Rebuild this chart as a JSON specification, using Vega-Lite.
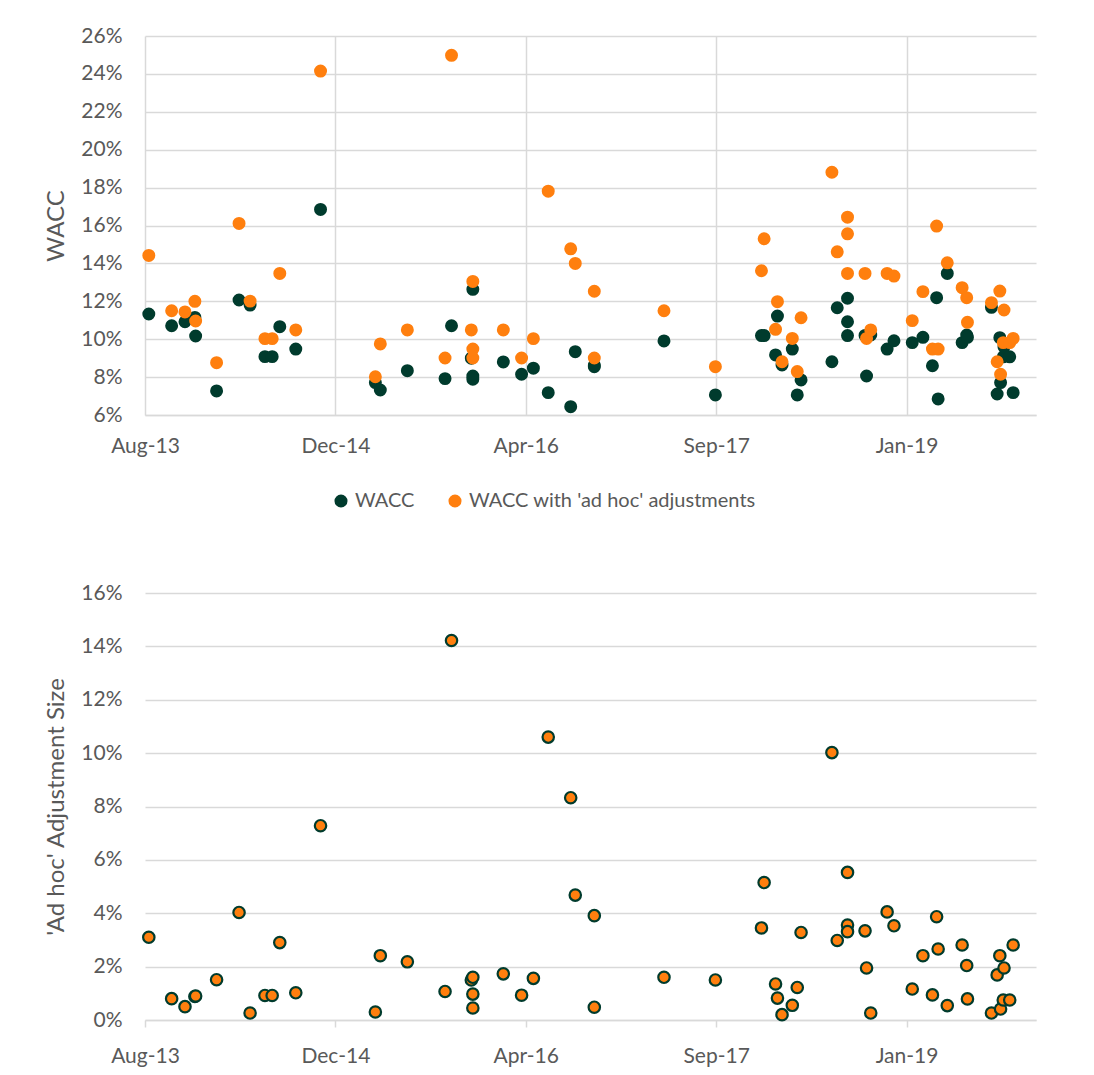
{
  "$schema": "https://vega.github.io/schema/vega-lite/v6.json",
  "background": "white",
  "padding": {"left": 44, "top": 25, "right": 10, "bottom": 5},
  "spacing": 126,
  "config": {
    "font": "Lato",
    "view": {"stroke": null},
    "axis": {
      "labelFont": "Lato", "titleFont": "Lato",
      "labelColor": "#595959", "titleColor": "#595959",
      "labelFontSize": 21, "titleFontSize": 24, "titleFontWeight": "normal",
      "labelOverlap": false,
      "gridColor": "#d9d9d9", "gridWidth": 1.5,
      "domainColor": "#d9d9d9", "domainWidth": 1.5, "tickColor": "#d9d9d9", "tickWidth": 1.5
    },
    "legend": {"labelFont": "Lato", "labelColor": "#595959", "labelFontSize": 20, "labelLimit": 0}
  },
  "datasets": {
    "pts": [
      {"date": "2013-08-11", "wacc": 0.1133, "wacc_adhoc": 0.1442, "adjustment": 0.031},
      {"date": "2013-10-10", "wacc": 0.1071, "wacc_adhoc": 0.1150, "adjustment": 0.008},
      {"date": "2013-11-14", "wacc": 0.1092, "wacc_adhoc": 0.1144, "adjustment": 0.005},
      {"date": "2013-12-10", "wacc": 0.1115, "wacc_adhoc": 0.1200, "adjustment": 0.0088},
      {"date": "2013-12-12", "wacc": 0.1017, "wacc_adhoc": 0.1096, "adjustment": 0.009},
      {"date": "2014-02-05", "wacc": 0.0727, "wacc_adhoc": 0.0876, "adjustment": 0.0151},
      {"date": "2014-04-05", "wacc": 0.1207, "wacc_adhoc": 0.1611, "adjustment": 0.0403},
      {"date": "2014-05-04", "wacc": 0.1180, "wacc_adhoc": 0.1201, "adjustment": 0.0026},
      {"date": "2014-06-12", "wacc": 0.0908, "wacc_adhoc": 0.1003, "adjustment": 0.0092},
      {"date": "2014-07-01", "wacc": 0.0908, "wacc_adhoc": 0.1003, "adjustment": 0.0092},
      {"date": "2014-07-21", "wacc": 0.1066, "wacc_adhoc": 0.1347, "adjustment": 0.029},
      {"date": "2014-09-01", "wacc": 0.0948, "wacc_adhoc": 0.1049, "adjustment": 0.0102},
      {"date": "2014-11-05", "wacc": 0.1685, "wacc_adhoc": 0.2415, "adjustment": 0.0728},
      {"date": "2015-03-29", "wacc": 0.0771, "wacc_adhoc": 0.0802, "adjustment": 0.003},
      {"date": "2015-04-11", "wacc": 0.0732, "wacc_adhoc": 0.0975, "adjustment": 0.0241},
      {"date": "2015-06-21", "wacc": 0.0834, "wacc_adhoc": 0.1049, "adjustment": 0.0218},
      {"date": "2015-09-28", "wacc": 0.0792, "wacc_adhoc": 0.0901, "adjustment": 0.0107},
      {"date": "2015-10-15", "wacc": 0.1071, "wacc_adhoc": 0.2498, "adjustment": 0.1422},
      {"date": "2015-12-10", "wacc": 0.1263, "wacc_adhoc": 0.1305, "adjustment": 0.0045},
      {"date": "2015-12-06", "wacc": 0.0900, "wacc_adhoc": 0.1049, "adjustment": 0.015},
      {"date": "2015-12-10", "wacc": 0.0806, "wacc_adhoc": 0.0901, "adjustment": 0.0097},
      {"date": "2015-12-10", "wacc": 0.0789, "wacc_adhoc": 0.0948, "adjustment": 0.016},
      {"date": "2016-02-28", "wacc": 0.0880, "wacc_adhoc": 0.1049, "adjustment": 0.0173},
      {"date": "2016-04-16", "wacc": 0.0815, "wacc_adhoc": 0.0901, "adjustment": 0.0093},
      {"date": "2016-05-17", "wacc": 0.0847, "wacc_adhoc": 0.1003, "adjustment": 0.0156},
      {"date": "2016-06-25", "wacc": 0.0718, "wacc_adhoc": 0.1781, "adjustment": 0.106},
      {"date": "2016-08-23", "wacc": 0.0644, "wacc_adhoc": 0.1477, "adjustment": 0.0833},
      {"date": "2016-09-04", "wacc": 0.0934, "wacc_adhoc": 0.1400, "adjustment": 0.0468},
      {"date": "2016-10-24", "wacc": 0.0855, "wacc_adhoc": 0.0901, "adjustment": 0.0048},
      {"date": "2016-10-24", "wacc": 0.0862, "wacc_adhoc": 0.1253, "adjustment": 0.0391},
      {"date": "2017-04-25", "wacc": 0.0991, "wacc_adhoc": 0.1150, "adjustment": 0.016},
      {"date": "2017-09-07", "wacc": 0.0706, "wacc_adhoc": 0.0855, "adjustment": 0.015},
      {"date": "2018-01-06", "wacc": 0.1019, "wacc_adhoc": 0.1361, "adjustment": 0.0345},
      {"date": "2018-01-13", "wacc": 0.1019, "wacc_adhoc": 0.1530, "adjustment": 0.0515},
      {"date": "2018-02-12", "wacc": 0.0917, "wacc_adhoc": 0.1052, "adjustment": 0.0135},
      {"date": "2018-02-17", "wacc": 0.1122, "wacc_adhoc": 0.1198, "adjustment": 0.0082},
      {"date": "2018-03-01", "wacc": 0.0864, "wacc_adhoc": 0.0881, "adjustment": 0.002},
      {"date": "2018-03-28", "wacc": 0.0948, "wacc_adhoc": 0.1004, "adjustment": 0.0055},
      {"date": "2018-04-10", "wacc": 0.0706, "wacc_adhoc": 0.0829, "adjustment": 0.0122},
      {"date": "2018-04-20", "wacc": 0.0785, "wacc_adhoc": 0.1113, "adjustment": 0.0328},
      {"date": "2018-07-10", "wacc": 0.0881, "wacc_adhoc": 0.1881, "adjustment": 0.1002},
      {"date": "2018-07-24", "wacc": 0.1166, "wacc_adhoc": 0.1461, "adjustment": 0.0298},
      {"date": "2018-08-20", "wacc": 0.1092, "wacc_adhoc": 0.1644, "adjustment": 0.0553},
      {"date": "2018-08-20", "wacc": 0.1216, "wacc_adhoc": 0.1556, "adjustment": 0.0356},
      {"date": "2018-08-20", "wacc": 0.1019, "wacc_adhoc": 0.1347, "adjustment": 0.0331},
      {"date": "2018-10-05", "wacc": 0.1020, "wacc_adhoc": 0.1347, "adjustment": 0.0334},
      {"date": "2018-10-09", "wacc": 0.0806, "wacc_adhoc": 0.1004, "adjustment": 0.0195},
      {"date": "2018-10-20", "wacc": 0.1022, "wacc_adhoc": 0.1049, "adjustment": 0.0026},
      {"date": "2018-12-02", "wacc": 0.0948, "wacc_adhoc": 0.1347, "adjustment": 0.0405},
      {"date": "2018-12-20", "wacc": 0.0992, "wacc_adhoc": 0.1333, "adjustment": 0.0353},
      {"date": "2019-02-06", "wacc": 0.0982, "wacc_adhoc": 0.1098, "adjustment": 0.0116},
      {"date": "2019-03-06", "wacc": 0.1010, "wacc_adhoc": 0.1251, "adjustment": 0.0241},
      {"date": "2019-03-31", "wacc": 0.0860, "wacc_adhoc": 0.0948, "adjustment": 0.0094},
      {"date": "2019-04-11", "wacc": 0.1219, "wacc_adhoc": 0.1597, "adjustment": 0.0387},
      {"date": "2019-04-15", "wacc": 0.0685, "wacc_adhoc": 0.0948, "adjustment": 0.0266},
      {"date": "2019-05-09", "wacc": 0.1347, "wacc_adhoc": 0.1403, "adjustment": 0.0054},
      {"date": "2019-06-17", "wacc": 0.0982, "wacc_adhoc": 0.1272, "adjustment": 0.0281},
      {"date": "2019-06-29", "wacc": 0.1022, "wacc_adhoc": 0.1219, "adjustment": 0.0204},
      {"date": "2019-07-01", "wacc": 0.1010, "wacc_adhoc": 0.1089, "adjustment": 0.0079},
      {"date": "2019-09-02", "wacc": 0.1168, "wacc_adhoc": 0.1193, "adjustment": 0.0026},
      {"date": "2019-09-17", "wacc": 0.0711, "wacc_adhoc": 0.0881, "adjustment": 0.0169},
      {"date": "2019-09-24", "wacc": 0.1008, "wacc_adhoc": 0.1254, "adjustment": 0.0241},
      {"date": "2019-09-26", "wacc": 0.0771, "wacc_adhoc": 0.0815, "adjustment": 0.0041},
      {"date": "2019-10-03", "wacc": 0.0907, "wacc_adhoc": 0.0982, "adjustment": 0.0075},
      {"date": "2019-10-05", "wacc": 0.0959, "wacc_adhoc": 0.1154, "adjustment": 0.0195},
      {"date": "2019-10-20", "wacc": 0.0907, "wacc_adhoc": 0.0982, "adjustment": 0.0075},
      {"date": "2019-10-29", "wacc": 0.0718, "wacc_adhoc": 0.1004, "adjustment": 0.0281}
    ]
  },
  "vconcat": [
    {
      "width": 891,
      "height": 379,
      "data": {"name": "pts"},
      "encoding": {
        "x": {
          "field": "date", "type": "temporal",
          "scale": {"type": "utc", "domain": [{"year": 2013, "month": 8, "date": 1, "utc": true}, {"year": 2019, "month": 12, "date": 28, "utc": true}]},
          "axis": {
            "title": null, "format": "%b-%y",
            "values": [
              {"year": 2013, "month": 8, "date": 1, "utc": true},
              {"year": 2014, "month": 12, "date": 14, "utc": true},
              {"year": 2016, "month": 4, "date": 27, "utc": true},
              {"year": 2017, "month": 9, "date": 9, "utc": true},
              {"year": 2019, "month": 1, "date": 22, "utc": true}
            ],
            "grid": true, "ticks": false, "domain": true, "labelFlush": false, "labelOverlap": false, "labelPadding": 20
          }
        }
      },
      "layer": [
        {
          "mark": {"type": "circle", "size": 168, "opacity": 1},
          "encoding": {
            "y": {"field": "wacc", "type": "quantitative", "scale": {"domain": [0.06, 0.26]},
              "axis": {"title": "WACC", "format": ".0%", "values": [0.06, 0.08, 0.1, 0.12, 0.14, 0.16, 0.18, 0.2, 0.22, 0.24, 0.26], "labelOverlap": false, "labelBound": false, "ticks": false, "domain": false, "labelPadding": 23, "titlePadding": 12}},
            "color": {"datum": "WACC", "type": "nominal",
              "scale": {"domain": ["WACC", "WACC with 'ad hoc' adjustments"], "range": ["#003b2d", "#ff7f0e"]},
              "legend": {"title": null, "orient": "none", "direction": "horizontal", "legendX": 186, "legendY": 455, "symbolType": "circle", "symbolSize": 170, "symbolStrokeWidth": 0, "columnPadding": 30, "labelOffset": 4, "padding": 0}}
          }
        },
        {
          "mark": {"type": "circle", "size": 168, "opacity": 1},
          "encoding": {
            "y": {"field": "wacc_adhoc", "type": "quantitative", "axis": {"title": "WACC", "format": ".0%", "values": [0.06, 0.08, 0.1, 0.12, 0.14, 0.16, 0.18, 0.2, 0.22, 0.24, 0.26], "labelOverlap": false, "ticks": false, "domain": false, "labelPadding": 23, "titlePadding": 12}},
            "color": {"datum": "WACC with 'ad hoc' adjustments", "type": "nominal"}
          }
        }
      ]
    },
    {
      "width": 891,
      "height": 427,
      "data": {"name": "pts"},
      "mark": {"type": "point", "shape": "circle", "filled": true, "fill": "#ff7f0e", "stroke": "#003b2d", "strokeWidth": 2.2, "size": 130, "opacity": 1},
      "encoding": {
        "x": {
          "field": "date", "type": "temporal",
          "scale": {"type": "utc", "domain": [{"year": 2013, "month": 8, "date": 1, "utc": true}, {"year": 2019, "month": 12, "date": 28, "utc": true}]},
          "axis": {
            "title": null, "format": "%b-%y",
            "values": [
              {"year": 2013, "month": 8, "date": 1, "utc": true},
              {"year": 2014, "month": 12, "date": 14, "utc": true},
              {"year": 2016, "month": 4, "date": 27, "utc": true},
              {"year": 2017, "month": 9, "date": 9, "utc": true},
              {"year": 2019, "month": 1, "date": 22, "utc": true}
            ],
            "grid": false, "ticks": true, "tickSize": 7, "domain": true, "labelFlush": false, "labelOverlap": false, "labelPadding": 18
          }
        },
        "y": {"field": "adjustment", "type": "quantitative", "scale": {"domain": [0, 0.16]},
          "axis": {"title": "'Ad hoc' Adjustment Size", "format": ".0%", "values": [0, 0.02, 0.04, 0.06, 0.08, 0.1, 0.12, 0.14, 0.16], "labelOverlap": false, "ticks": false, "domain": false, "labelPadding": 23, "titlePadding": 12}}
      }
    }
  ]
}
